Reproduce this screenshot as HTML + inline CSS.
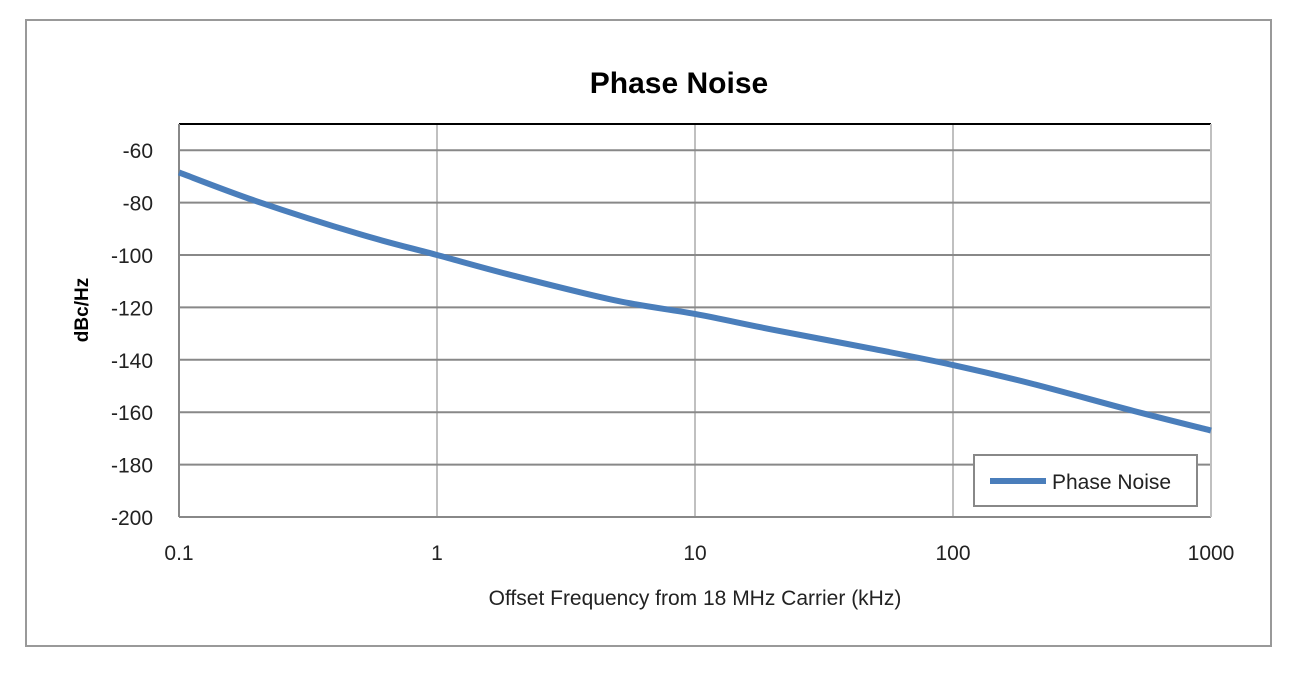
<!DOCTYPE html>
<html><head><meta charset="utf-8"><style>
body{margin:0;background:#fff;}
svg{display:block;font-family:"Liberation Sans",Calibri,sans-serif;}
</style></head><body>
<svg width="1304" height="677" id="chart">
<rect x="26" y="20" width="1245" height="626" fill="#fff" stroke="#999" stroke-width="2"/>
<text x="679" y="93" text-anchor="middle" font-size="30" font-weight="bold">Phase Noise</text>
<g id="grid"></g>
<g id="ticks"></g>
<path id="curve" fill="none" stroke="#4a7ebb" stroke-width="6" stroke-linejoin="round"/>
<text transform="translate(88,310) rotate(-90)" text-anchor="middle" font-size="19" font-weight="bold">dBc/Hz</text>
<text x="695" y="605" text-anchor="middle" font-size="21" fill="#222">Offset Frequency from 18 MHz Carrier (kHz)</text>
<g>
<rect x="974" y="455" width="223" height="51" fill="#fff" stroke="#888" stroke-width="2"/>
<line x1="990" y1="481" x2="1046" y2="481" stroke="#4a7ebb" stroke-width="6"/>
<text x="1052" y="489" font-size="21" fill="#222">Phase Noise</text>
</g>
</svg>
<script>
const freqs=[0.1,0.2,0.5,1,2,5,10,20,50,100,200,500,1000];
const values=[-68.5,-79.5,-92,-100,-108,-117.5,-122.5,-128.5,-136,-142,-149,-159.5,-167];
const yTicks=[-60,-80,-100,-120,-140,-160,-180,-200];
const xTicks=[0.1,1,10,100,1000];
const xTickLabels=["0.1","1","10","100","1000"];
const X0=179,X1=1211,Y0=124,Y1=517,yMin=-200,yMax=-50;
const xs=v=>X0+(Math.log10(v)+1)/4*(X1-X0);
const ys=v=>Y1-(v-yMin)/(yMax-yMin)*(Y1-Y0);
const ns="http://www.w3.org/2000/svg";
const grid=document.getElementById('grid'),ticks=document.getElementById('ticks');
function mk(tag,attrs,parent){const e=document.createElementNS(ns,tag);for(const k in attrs)e.setAttribute(k,attrs[k]);parent.appendChild(e);return e;}
xTicks.forEach((t,i)=>{
  if(i>0&&i<xTicks.length-1){const l=mk('line',{x1:xs(t),x2:xs(t),y1:Y0,y2:Y1,stroke:'#c0c0c0','stroke-width':2},grid);
  
  }
  const tx=mk('text',{x:xs(t),y:560,'text-anchor':'middle','font-size':21,fill:'#222'},ticks);
  tx.textContent=xTickLabels[i];
  
  
});
yTicks.forEach(t=>{
  const l=mk('line',{x1:X0,x2:X1,y1:ys(t),y2:ys(t),stroke:'#888','stroke-width':2},grid);
  
  
  const tx=mk('text',{x:153,y:ys(t)+8,'text-anchor':'end','font-size':21,fill:'#222'},ticks);
  tx.textContent=t;
  
  
});
const topBorder=mk('line',{x1:X0,x2:X1,y1:Y0,y2:Y0,stroke:'#000','stroke-width':2},grid);


const la=mk('line',{x1:X0,x2:X0,y1:Y0,y2:Y1,stroke:'#888','stroke-width':2},grid);


const ra=mk('line',{x1:X1,x2:X1,y1:Y0,y2:Y1,stroke:'#c0c0c0','stroke-width':2},grid);


const P=freqs.map((f,i)=>[xs(f),ys(values[i])]);
let d=`M${P[0][0]},${P[0][1]}`;
for(let i=0;i<P.length-1;i++){const p0=P[Math.max(0,i-1)],p1=P[i],p2=P[i+1],p3=P[Math.min(P.length-1,i+2)];
d+=` C${p1[0]+(p2[0]-p0[0])/6},${p1[1]+(p2[1]-p0[1])/6} ${p2[0]-(p3[0]-p1[0])/6},${p2[1]-(p3[1]-p1[1])/6} ${p2[0]},${p2[1]}`;}
document.getElementById('curve').setAttribute('d',d);
</script>
</body></html>
